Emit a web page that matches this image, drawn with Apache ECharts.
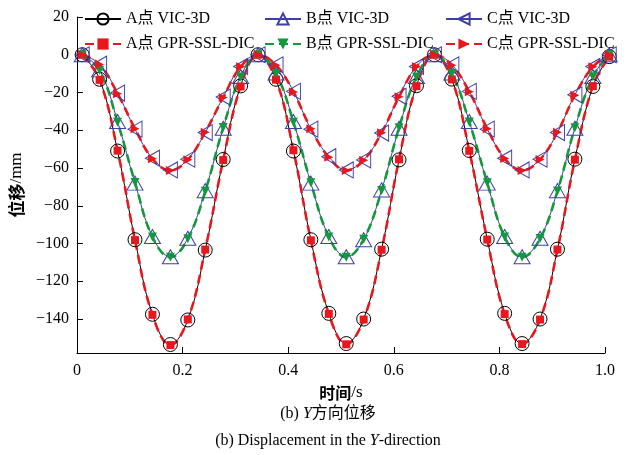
<!DOCTYPE html>
<html>
<head>
<meta charset="utf-8">
<script src="https://cdn.jsdelivr.net/npm/echarts@6/dist/echarts.min.js"></script>
<style>
  html, body { margin: 0; padding: 0; background: #fff; }
  #container { width: 626px; height: 455px; }
</style>
</head>
<body>
<div id="container"></div>
<script>
// sample times (s)
var times = [0.01, 0.043, 0.077, 0.11, 0.143, 0.177, 0.21, 0.243, 0.277, 0.31,
  0.343, 0.377, 0.41, 0.443, 0.477, 0.51, 0.543, 0.577, 0.61, 0.643,
  0.677, 0.71, 0.743, 0.777, 0.81, 0.843, 0.877, 0.91, 0.943, 0.977, 1.008];

// displacement (mm), VIC-3D
var aVic = [0, -13, -51, -98, -137.5, -153.5, -140.5, -103.5, -55.5, -16.5,
  0, -13, -51, -98, -137, -153, -140, -103, -55.7, -16.4,
  0, -12.9, -50.7, -97.7, -137, -153, -140, -103, -55.3, -16.8, -1];
var bVic = [0, -8, -35.4, -68, -96.3, -107, -97.2, -72, -38.9, -11.5,
  0, -9.7, -35.4, -68, -96.3, -107, -98, -71.6, -38.9, -11.5,
  0, -9.7, -35.4, -68, -96.3, -107, -97.2, -72, -38.9, -11.5, 0];
var cVic = [0, -5, -20.3, -39.4, -54.8, -61, -55.3, -41.2, -22.4, -6.2,
  0, -5.3, -19.4, -39.4, -54, -61, -55.7, -41.5, -22, -6.2,
  0, -5.3, -19.4, -39.4, -54.8, -61, -55.3, -41.2, -21.2, -6.2, 0];

// displacement (mm), GPR-SSL-DIC
var aGpr = [0, -13.3, -50.8, -98.2, -137.8, -153.8, -140.2, -103.2, -55.8, -16.8,
  0, -13.2, -50.6, -98.3, -137.3, -153.4, -140.3, -103.3, -55.4, -16.6,
  0, -13.1, -50.9, -97.9, -137.4, -153.3, -140.3, -103.2, -55.6, -16.6, -1];
var bGpr = [0, -8.3, -35.7, -67.7, -96.5, -107.3, -97.5, -72.3, -38.6, -11.8,
  0, -9.9, -35.7, -67.8, -96.5, -107.3, -97.8, -71.9, -38.7, -11.8,
  0, -9.9, -35.6, -67.8, -96.6, -107.3, -97.4, -72.2, -38.7, -11.7, 0];
var cGpr = [0, -5.2, -20.6, -39.2, -55.1, -61.3, -55.6, -41, -22.6, -6.4,
  0, -5.5, -19.7, -39.2, -54.3, -61.3, -55.9, -41.3, -22.3, -6.4,
  0, -5.5, -19.6, -39.2, -55, -61.3, -55.5, -41, -21.4, -6.4, 0];

var yTicks = [-140, -120, -100, -80, -60, -40, -20, 0, 20];

var serif = '"Liberation Serif", "Noto Sans CJK SC", serif';
var cjk = '"Noto Sans CJK SC", sans-serif';
var red = '#e8161d', green = '#14983c', blue = '#3b3fa6';

function pairs(ys) {
  return times.map(function (t, i) { return [t, ys[i]]; });
}

function vicSeries(name, ys, lineColor, symbol, size, borderColor) {
  return {
    name: name, type: 'line', data: pairs(ys), smooth: 0.4, clip: false,
    symbol: symbol, symbolSize: size, showAllSymbol: true,
    lineStyle: {color: lineColor, width: 1},
    itemStyle: {color: 'rgba(255,255,255,0)', borderColor: borderColor, borderWidth: 1}
  };
}
function gprSeries(name, ys, color, symbol, size) {
  return {
    name: name, type: 'line', data: pairs(ys), smooth: 0.4, clip: false,
    symbol: symbol, symbolSize: size, showAllSymbol: true,
    lineStyle: {color: color, width: 2.6, type: [9, 5]},
    itemStyle: {color: color, borderWidth: 0}
  };
}

var dom = document.getElementById('container');
var myChart = echarts.init(dom);

var legendBase = {
  orient: 'vertical', top: 11, itemGap: 9, itemWidth: 36, itemHeight: 14,
  selectedMode: false, padding: 0,
  textStyle: {fontFamily: serif, fontSize: 16, color: '#000'}
};

var option = {
  animation: false,
  backgroundColor: '#fff',
  grid: {left: 74, right: 21, top: 17, bottom: 102},
  legend: [
    Object.assign({left: 84, data: ['A点 VIC-3D', 'A点 GPR-SSL-DIC']}, legendBase),
    Object.assign({left: 264, data: ['B点 VIC-3D', 'B点 GPR-SSL-DIC']}, legendBase),
    Object.assign({left: 445, data: ['C点 VIC-3D', 'C点 GPR-SSL-DIC']}, legendBase)
  ],
  xAxis: {
    type: 'value', min: 0, max: 1, interval: 0.2,
    name: '{c|时间}{n|/s}', nameLocation: 'middle', nameGap: 31,
    nameTextStyle: {
      color: '#000',
      rich: {
        c: {fontFamily: cjk, fontSize: 16, fontWeight: 'bold', color: '#000'},
        n: {fontFamily: serif, fontSize: 17, color: '#000'}
      }
    },
    axisLine: {onZero: false, lineStyle: {color: '#000', width: 1}},
    axisTick: {inside: true, length: 6, lineStyle: {color: '#000'}},
    axisLabel: {
      fontFamily: serif, fontSize: 16, color: '#000', margin: 10,
      formatter: function (v) { return v === 0 ? '0' : v.toFixed(1); }
    },
    splitLine: {show: false}
  },
  yAxis: {
    type: 'value', min: -158, max: 20,
    name: '{c|位移}{n|/mm}', nameLocation: 'middle', nameGap: 48,
    nameTextStyle: {
      color: '#000',
      rich: {
        c: {fontFamily: cjk, fontSize: 17, fontWeight: 'bold', color: '#000'},
        n: {fontFamily: serif, fontSize: 17, color: '#000'}
      }
    },
    axisLine: {show: true, onZero: false, lineStyle: {color: '#000', width: 1}},
    axisTick: {inside: true, length: 6, customValues: yTicks, lineStyle: {color: '#000'}},
    axisLabel: {
      fontFamily: serif, fontSize: 16, color: '#000', margin: 8, customValues: yTicks,
      formatter: function (v) { return String(v).replace('-', '\u2212'); }
    },
    splitLine: {show: false}
  },
  graphic: [
    {
      type: 'text', x: 328, y: 414,
      style: {
        text: '{n|(b) }{i|Y}{n|方向位移}', align: 'center', verticalAlign: 'middle',
        rich: {
          n: {fontFamily: serif, fontSize: 16, fill: '#000'},
          i: {fontFamily: serif, fontSize: 16, fontStyle: 'italic', fill: '#000'}
        }
      }
    },
    {
      type: 'text', x: 328, y: 441,
      style: {
        text: '{n|(b) Displacement in the }{i|Y}{n|-direction}', align: 'center', verticalAlign: 'middle',
        rich: {
          n: {fontFamily: serif, fontSize: 16, fill: '#000'},
          i: {fontFamily: serif, fontSize: 16, fontStyle: 'italic', fill: '#000'}
        }
      }
    }
  ],
  series: [
    vicSeries('A点 VIC-3D', aVic, '#000', 'circle', 14, '#000'),
    vicSeries('B点 VIC-3D', bVic, blue, 'triangle', [16, 14], blue),
    vicSeries('C点 VIC-3D', cVic, blue, 'path://M0,5L10,0L10,10Z', [14, 16], blue),
    gprSeries('A点 GPR-SSL-DIC', aGpr, red, 'rect', 8),
    gprSeries('B点 GPR-SSL-DIC', bGpr, green, 'path://M0,0L10,0L5,9Z', 9),
    gprSeries('C点 GPR-SSL-DIC', cGpr, red, 'path://M0,0L9,5L0,10Z', 9)
  ]
};
myChart.setOption(option, true);
</script>
</body>
</html>
